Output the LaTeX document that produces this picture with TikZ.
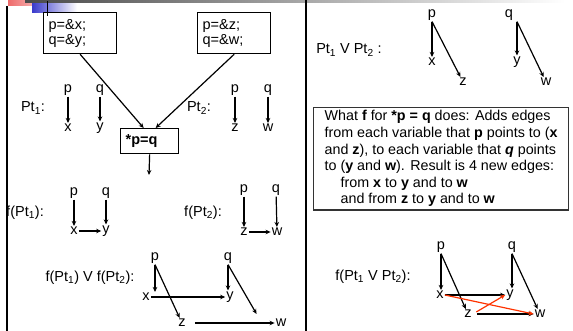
\documentclass[tikz,border=0pt]{standalone}
\usepackage{fontspec}
\setmainfont{Liberation Sans}
\usetikzlibrary{arrows.meta,positioning}
\definecolor{EdgeRed}{HTML}{FF3300}
\definecolor{BarGray}{HTML}{4A4A4A}
\definecolor{TabRed}{HTML}{EE6B6B}
\definecolor{TabBlue}{HTML}{3A3ACC}

\begin{document}
\begin{tikzpicture}[x=1pt,y=-1pt,
  font=\fontsize{14.5}{15}\selectfont,
  vname/.style={inner sep=1pt},
  lbl/.style={inner sep=0pt},
  ptr/.style={draw=black,line width=1.2pt,-{Stealth[length=5pt,width=4.5pt]}},
  newedge/.style={ptr,draw=EdgeRed,-{Stealth[length=5pt,width=4.5pt,fill=EdgeRed]}},
  codebox/.style={draw,line width=1.3pt,anchor=north west,text width=63pt,inner xsep=5pt,minimum height=41pt,align=left},
  stmtbox/.style={draw,line width=1.3pt,anchor=north west,text width=48pt,inner xsep=5pt,minimum height=25pt,align=left,font=\fontsize{14.5}{15}\selectfont\bfseries},
  notebox/.style={draw=black!80,line width=1.2pt,anchor=north west,align=left,minimum width=255pt,inner xsep=8pt,inner ysep=3pt,font=\fontsize{14.3}{16.6}\selectfont}
]
\useasboundingbox (0,0) rectangle (573,331);
\shade[left color=TabRed,right color=TabRed!40] (8,0) rectangle (42,6);
\shade[left color=BarGray,right color=white] (25,0) rectangle (565,3);
\shade[left color=TabBlue,right color=white] (32,4) rectangle (77,13);
\draw[line width=1pt] (47,1) -- (47,16);
\draw[line width=2pt] (6.5,6) -- (6.5,331);
\draw[line width=1.2pt] (306,0) -- (306,331);

\node[codebox] (init1) at (43,12) {p=\&x;\\q=\&y;};
\node[codebox] (init2) at (197,12) {p=\&z;\\q=\&w;};
\node[stmtbox] (stmt) at (120,128) {*p=q};
\coordinate (out) at (149,175);
\draw[ptr] (init1.south) -- ([xshift=-6pt]stmt.north);
\draw[ptr] (init2.south) -- ([xshift=6pt]stmt.north);
\draw[ptr] (stmt.south) -- (out);

\node[lbl] (pt1) at (33,108) {Pt\textsubscript{1}:};
\node[vname] (p1) at (68,90) {p};
\node[vname] (q1) at (100,90) {q};
\node[vname] (x1) at (68,128) {x};
\node[vname] (y1) at (100,128) {y};
\draw[ptr] (p1) -- (x1);
\draw[ptr] (q1) -- (y1);

\node[lbl] (pt2) at (199,108) {Pt\textsubscript{2}:};
\node[vname] (p2) at (235,90) {p};
\node[vname] (q2) at (268,90) {q};
\node[vname] (z2) at (235,128) {z};
\node[vname] (w2) at (268,128) {w};
\draw[ptr] (p2) -- (z2);
\draw[ptr] (q2) -- (w2);

\node[lbl] (fpt1) at (25,213) {f(Pt\textsubscript{1}):};
\node[vname] (p3) at (74,193) {p};
\node[vname] (q3) at (106,193) {q};
\node[vname] (x3) at (74,231) {x};
\node[vname] (y3) at (106,231) {y};
\draw[ptr] (p3) -- (x3);
\draw[ptr] (q3) -- (y3);
\draw[ptr] (x3) -- (y3);

\node[lbl] (fpt2) at (203,213) {f(Pt\textsubscript{2}):};
\node[vname] (p4) at (244,190) {p};
\node[vname] (q4) at (276,190) {q};
\node[vname] (z4) at (244,232) {z};
\node[vname] (w4) at (277,232) {w};
\draw[ptr] (p4) -- (z4);
\draw[ptr] (q4) -- (w4);
\draw[ptr] (z4) -- (w4);

\node[lbl] (fpt12) at (90,278) {f(Pt\textsubscript{1}) V f(Pt\textsubscript{2}):};
\node[vname] (p5) at (155,258) {p};
\node[vname] (q5) at (228,258) {q};
\node[vname] (x5) at (146,297) {x};
\node[vname] (y5) at (230,297) {y};
\node[vname] (z5) at (182,323) {z};
\node[vname] (w5) at (281,323) {w};
\draw[ptr] (p5.south) -- (p5.south |- x5.north);
\draw[ptr] (p5.south) -- (z5);
\draw[ptr] (q5.south) -- (q5.south |- y5.north);
\draw[ptr] (q5.south) -- ([xshift=-18pt,yshift=4pt]w5.north west);
\draw[ptr] (x5) -- (y5);
\draw[ptr,shorten <=8pt] (z5) -- (w5);

\node[lbl] (ptu) at (349,50) {Pt\textsubscript{1} V Pt\textsubscript{2} :};
\node[vname] (p6) at (432,15) {p};
\node[vname] (q6) at (509,15) {q};
\node[vname] (x6) at (432,62) {x};
\node[vname] (y6) at (517,62) {y};
\node[vname] (z6) at (463,82) {z};
\node[vname] (w6) at (546,82) {w};
\draw[ptr] (p6.south) -- (p6.south |- x6.north);
\draw[ptr] (p6.south) -- (z6);
\draw[ptr] (y6 |- q6.south) -- (y6);
\draw[ptr] (y6 |- q6.south) -- (w6);

\node[notebox] (note) at (313,107) {What \textbf{f} for \textbf{*p = q} does: Adds edges\\
from each variable that \textbf{p} points to (\textbf{x}\\
and \textbf{z}), to each variable that \textbf{\textit{q}} points\\
to (\textbf{y} and \textbf{w}). Result is 4 new edges:\\
\hspace*{16pt}from \textbf{x} to \textbf{y} and to \textbf{w}\\
\hspace*{16pt}and from \textbf{z} to \textbf{y} and to \textbf{w}};

\node[lbl] (fptu) at (373,277) {f(Pt\textsubscript{1} V Pt\textsubscript{2}):};
\node[vname] (p7) at (441,247) {p};
\node[vname] (q7) at (512,247) {q};
\node[vname] (x7) at (440,295) {x};
\node[vname] (y7) at (510,295) {y};
\node[vname] (z7) at (468,314) {z};
\node[vname] (w7) at (540,314) {w};
\draw[ptr] (p7.south) -- (p7.south |- x7.north);
\draw[ptr] (p7.south) -- (z7);
\draw[ptr] (q7.south) -- (q7.south |- y7.north);
\draw[ptr] (q7.south) -- (w7);
\draw[ptr] (x7.east) -- (y7.west);
\draw[ptr,shorten <=4pt] (z7.east) -- (w7.west);
\draw[newedge] (x7.east) -- (w7.west);
\draw[newedge,shorten <=4pt] (z7.east) -- (y7.west);
\end{tikzpicture}
\end{document}
